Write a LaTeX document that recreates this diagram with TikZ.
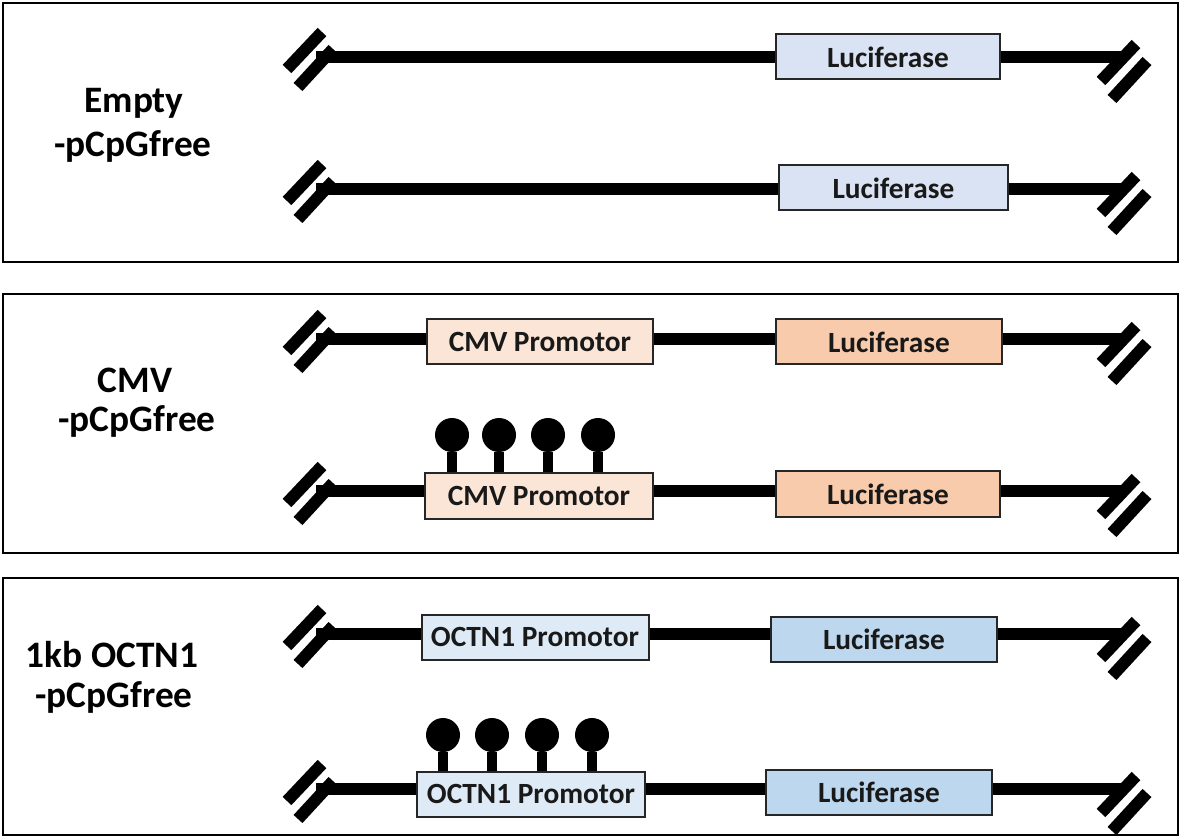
\documentclass[tikz,border=0pt]{standalone}
\usepackage{fontspec}
\setmainfont{Carlito}
\definecolor{lucgray}{HTML}{DAE3F3}
\definecolor{cmvpeach}{HTML}{FBE5D6}
\definecolor{cmvluc}{HTML}{F8CBAD}
\definecolor{octnblue}{HTML}{DEEBF7}
\definecolor{octnluc}{HTML}{BDD7EE}
\tikzset{
        brk/.pic={
                \draw[line width=9pt] (-23,10) -- (12,-27);
                \draw[line width=9pt] (-12,28) -- (23,-10);
        },
        panel/.style={line width=2pt},
        dna/.style={line width=9pt},
        gene/.style={draw=black!85, line width=1.5pt, minimum height=33.75pt, inner sep=0pt,
                font=\fontsize{22}{26}\selectfont\bfseries, text=black!90},
        cpg/.style={circle, fill=black, minimum size=25.5pt, inner sep=0pt},
        stem/.style={line width=7.5pt},
        construct/.style={font=\fontsize{28}{32}\selectfont\bfseries, anchor=base}
}
\begin{document}
\begin{tikzpicture}[x=0.75pt, y=-0.75pt]
        \useasboundingbox (0,0) rectangle (1181,837);

        \draw[panel] (3,3) rectangle (1178,262);
        \draw[panel] (3,294) rectangle (1178,553);
        \draw[panel] (3,578) rectangle (1178,835);

        \node[construct] (empty1) at (134,113) {Empty};
        \node[construct] (empty2) at (133,157) {-pCpGfree};
        \node[construct] (cmv1) at (135,393) {CMV};
        \node[construct] (cmv2) at (137,432) {-pCpGfree};
        \node[construct] (octn1) at (112,667) {1kb OCTN1};
        \node[construct] (octn2) at (114,707) {-pCpGfree};

        \foreach \y in {57,189,339,491,634,789} {
                \coordinate (l\y) at (316,\y);
                \coordinate (r\y) at (1122,\y);
                \draw[dna] (l\y) -- (r\y);
                \pic at (310,{\y+2}) {brk};
                \pic at (1124,{\y+14}) {brk};
        }

        \node[gene, fill=lucgray, minimum width=168pt] (luc1) at (888,57) {Luciferase};
        \node[gene, fill=lucgray, minimum width=171.75pt] (luc2) at (893.5,188) {Luciferase};

        \node[gene, fill=cmvpeach, minimum width=169.5pt] (cmvp3) at (540,342) {CMV Promotor};
        \node[gene, fill=cmvluc, minimum width=169.5pt] (luc3) at (889,342) {Luciferase};
        \node[gene, fill=cmvpeach, minimum width=171pt] (cmvp4) at (539,496) {CMV Promotor};
        \node[gene, fill=cmvluc, minimum width=168pt] (luc4) at (888,494) {Luciferase};

        \node[gene, fill=octnblue, minimum width=170.25pt] (octp5) at (535,637) {OCTN1 Promotor};
        \node[gene, fill=octnluc, minimum width=169.5pt] (luc5) at (884,639) {Luciferase};
        \node[gene, fill=octnblue, minimum width=171pt] (octp6) at (531,794) {OCTN1 Promotor};
        \node[gene, fill=octnluc, minimum width=169.5pt] (luc6) at (879,792) {Luciferase};

        \foreach \i/\x in {1/452,2/499,3/548,4/598} {
                \node[cpg] (mc\i) at (\x,435) {};
                \draw[stem] (mc\i) -- (mc\i |- cmvp4.north);
        }
        \foreach \i/\x in {1/443,2/492,3/542,4/592} {
                \node[cpg] (mo\i) at (\x,735) {};
                \draw[stem] (mo\i) -- (mo\i |- octp6.north);
        }
\end{tikzpicture}
\end{document}
